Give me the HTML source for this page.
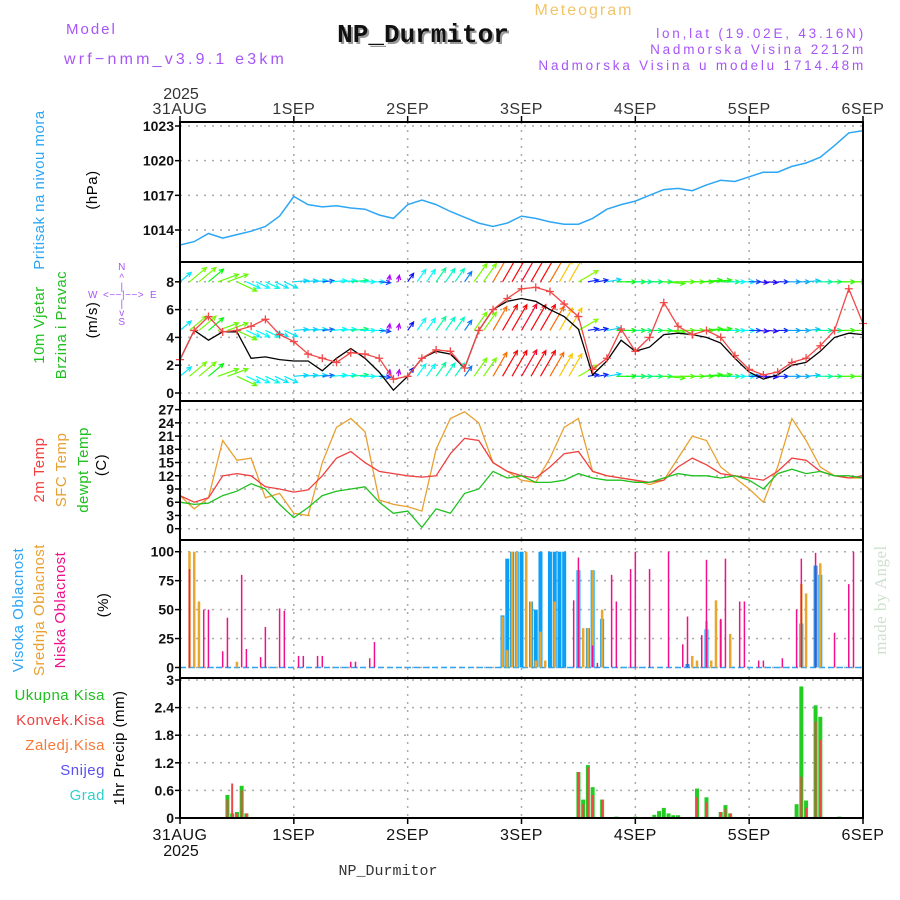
<!DOCTYPE html>
<html><head><meta charset="utf-8">
<style>
body{margin:0;background:#fff;}
svg{display:block;font-family:"Liberation Sans",sans-serif;}
</style></head>
<body>
<svg id="chart" width="900" height="900" viewBox="0 0 900 900" xmlns="http://www.w3.org/2000/svg">
<defs><clipPath id="windClip"><rect x="180" y="263" width="683" height="137"/></clipPath></defs>
<rect x="0" y="0" width="900" height="900" fill="#fff"/>
<g>
<text x="66" y="34" fill="#a855f7" font-size="15" letter-spacing="2">Model</text>
<text x="64" y="64" fill="#a855f7" font-size="16" letter-spacing="3.2">wrf−nmm_v3.9.1 e3km</text>
<text x="584" y="15" fill="#f2c46a" font-size="16" letter-spacing="2" text-anchor="middle">Meteogram</text>
<text x="425" y="44" fill="#999" font-size="26" font-weight="bold" font-family="Liberation Mono, monospace" text-anchor="middle">NP_Durmitor</text>
<text x="423" y="42" fill="#111" font-size="26" font-weight="bold" font-family="Liberation Mono, monospace" text-anchor="middle">NP_Durmitor</text>
<text x="866" y="38" fill="#a855f7" font-size="13.5" letter-spacing="2.8" text-anchor="end">lon,lat (19.02E, 43.16N)</text>
<text x="866" y="54" fill="#a855f7" font-size="13.5" letter-spacing="2.8" text-anchor="end">Nadmorska Visina 2212m</text>
<text x="866" y="70" fill="#a855f7" font-size="13.5" letter-spacing="2.8" text-anchor="end">Nadmorska Visina u modelu 1714.48m</text>
</g>
<g font-size="15" letter-spacing="0.5">
<text transform="translate(44,190) rotate(-90)" text-anchor="middle" fill="#2ea6f5">Pritisak na nivou mora</text>
<text transform="translate(97,190) rotate(-90)" text-anchor="middle" fill="#000">(hPa)</text>
<text transform="translate(44,325) rotate(-90)" text-anchor="middle" fill="#1fc01f">10m Vjetar</text>
<text transform="translate(66,325) rotate(-90)" text-anchor="middle" fill="#1fc01f">Brzina i Pravac</text>
<text transform="translate(97,320) rotate(-90)" text-anchor="middle" fill="#000">(m/s)</text>
<g fill="#a855f7" font-size="10">
<text x="122" y="270" text-anchor="middle">N</text>
<text x="122" y="281" text-anchor="middle">^</text>
<text x="122" y="290" text-anchor="middle">|</text>
<text x="88" y="298">W</text>
<text x="103" y="298">&lt;−−|−−&gt;</text>
<text x="150" y="298">E</text>
<text x="122" y="307" text-anchor="middle">|</text>
<text x="122" y="316" text-anchor="middle">v</text>
<text x="122" y="325" text-anchor="middle">S</text>
</g>
<text transform="translate(44,470) rotate(-90)" text-anchor="middle" fill="#f04040">2m Temp</text>
<text transform="translate(66,470) rotate(-90)" text-anchor="middle" fill="#e8a030">SFC Temp</text>
<text transform="translate(88,470) rotate(-90)" text-anchor="middle" fill="#1fc01f">dewpt Temp</text>
<text transform="translate(106,465) rotate(-90)" text-anchor="middle" fill="#000">(C)</text>
<text transform="translate(23,610) rotate(-90)" text-anchor="middle" fill="#2ea6f5">Visoka Oblacnost</text>
<text transform="translate(44,610) rotate(-90)" text-anchor="middle" fill="#e8a030">Srednja Oblacnost</text>
<text transform="translate(65,610) rotate(-90)" text-anchor="middle" fill="#f0108a">Niska Oblacnost</text>
<text transform="translate(108,605) rotate(-90)" text-anchor="middle" fill="#000">(%)</text>
<text x="105" y="700" text-anchor="end" fill="#1fc01f">Ukupna  Kisa</text>
<text x="105" y="725" text-anchor="end" fill="#f04040">Konvek.Kisa</text>
<text x="105" y="750" text-anchor="end" fill="#f57a3a">Zaledj.Kisa</text>
<text x="105" y="775" text-anchor="end" fill="#5a50f0">Snijeg</text>
<text x="105" y="800" text-anchor="end" fill="#30d0d0">Grad</text>
<text transform="translate(124,748) rotate(-90)" text-anchor="middle" fill="#000">1hr Precip (mm)</text>
<text transform="translate(886,600) rotate(-90)" text-anchor="middle" fill="#cfe0cf" font-size="17" font-family="Liberation Serif, serif">made by Angel</text>
<text x="388" y="875" text-anchor="middle" fill="#333" font-size="15" font-family="Liberation Mono, monospace" letter-spacing="0">NP_Durmitor</text>
</g>
<g id="plots"></g>
</svg>
<script>
// ---- data (3-hourly, index i = hour 3*i from 31AUG 00) ----
const dayLabels = ["31AUG","1SEP","2SEP","3SEP","4SEP","5SEP","6SEP"];
const pressTicks = [1014,1017,1020,1023];
const windTicks = [0,2,4,6,8];
const tempTicks = [0,3,6,9,12,15,18,21,24,27];
const cloudTicks = [0,25,50,75,100];
const precipTicks = [0,0.6,1.2,1.8,2.4,3];
const pressure = [1012.7,1013.0,1013.7,1013.3,1013.6,1013.9,1014.3,1015.2,1016.9,1016.2,1016.0,1016.1,1015.9,1015.8,1015.3,1015.0,1016.2,1016.6,1016.2,1015.6,1015.1,1014.6,1014.3,1014.6,1015.2,1015.0,1014.7,1014.5,1014.5,1015.0,1015.8,1016.2,1016.5,1017.0,1017.5,1017.6,1017.4,1017.9,1018.3,1018.2,1018.6,1019.0,1019.0,1019.5,1019.8,1020.3,1021.3,1022.4,1022.6];
const gust = [2.4,4.5,5.5,4.4,4.5,4.8,5.3,4.2,3.7,2.8,2.5,2.2,2.9,2.8,2.5,1.0,1.2,2.5,3.1,3.0,1.8,4.5,6.0,6.8,7.5,7.6,7.3,6.4,5.5,1.7,2.5,4.6,3.0,4.0,6.5,4.8,4.2,4.5,4.0,2.7,1.7,1.3,1.5,2.2,2.5,3.4,4.5,7.5,5.0];
const windSpeed = [2.4,4.5,3.8,4.4,4.4,2.5,2.6,2.4,2.3,2.3,1.6,2.5,3.2,2.5,1.5,0.2,1.2,2.5,3.0,2.8,1.8,4.5,6.0,6.6,6.8,6.6,6.0,5.5,4.6,1.3,2.3,3.8,3.0,3.3,4.2,4.3,4.2,4.0,3.6,2.5,1.5,1.0,1.3,2.0,2.2,3.0,4.0,4.3,4.2];
const windDir = [40,40,40,20,-25,-25,-25,-25,5,5,5,5,5,0,-5,80,55,55,55,55,55,55,60,60,60,60,60,60,30,10,10,0,0,0,-5,0,0,5,0,0,0,-5,0,0,5,0,0,0,0];
const temp2m = [7.5,6,7,12,12.5,12,9.5,9,8.3,8.8,12,16,17.5,15,13,12.5,12,11.7,12,17,20.5,20,15,13,12,11.5,14,17,17.5,13,12,11.5,11,10.5,11,14,16,14.5,12.5,12,11.5,11,13,16,15.5,13,12,11.5,12];
const tempSfc = [7.5,4.5,7,20,15.5,16,7,8,3.5,3,15,23,25,22,6.5,5.5,5,4,18,25,26.5,24,15,13,11,10.5,16,23,25,13,12,11.5,11,10,11,16,21,20,14,11.5,9,6,14,25,20,14,12,11.5,11.5];
const dewpt = [6,5.5,5.8,7.5,8.5,10.2,9,5.5,2.5,4.8,7.5,8.5,9,9.5,6,3.5,4,0.3,4.5,3.5,8,9,13,11.5,12,10.5,10.5,11,12.5,11.5,11,11,10.5,10.5,11.5,12.5,12,12,11.5,12,11,9,12.5,13.5,12.5,13,12,12,11.5];
// cloud (hourly, sparse)
const lowHours = [2,5,6,9,10,13,14,17,18,21,22,25,26,29,30,36,37,40,41,83,84,87,88,91,92,95,96,99,103,106,107,110,111,114,115,118,119,122,123,127,130,131,134,138,141,142];
const lowVals = [85,50,50,14,43,80,16,9,35,51,49,10,10,10,10,5,5,8,22,58,95,19,4,80,57,85,100,85,100,20,44,28,93,42,94,57,57,6,6,8,50,94,99,30,72,100];
const midHours = [2,3,4,12,68,69,70,71,73,74,75,76,77,79,84,85,86,87,89,108,109,111,112,113,114,116,131,132,135];
const midVals = [100,100,57,5,44,15,100,100,100,57,6,31,6,57,84,34,34,84,50,10,6,40,6,58,41,29,72,64,90];
const highHours = [68,69,70,71,72,74,75,76,78,79,80,81,84,86,87,89,107,111,131,134,135];
const highVals = [45,94,100,100,100,57,50,100,100,100,100,100,84,34,84,42,3,33,38,88,80];
// precip (hourly, sparse)
const rainHours = [10,11,12,13,14,84,85,86,87,89,92,96,100,101,102,103,104,105,109,111,114,115,116,130,131,132,134,135,139];
const rainTotal = [0.5,0.1,0.13,0.7,0.1,1.0,0.4,1.15,0.67,0.4,0.03,0.03,0.07,0.15,0.22,0.1,0.06,0.06,0.64,0.45,0.13,0.28,0.1,0.3,2.86,0.38,2.45,2.2,0.03];
const rainConv = [0.4,0.75,0.1,0.6,0.1,1.0,0.3,1.1,0.5,0.4,0,0,0,0,0,0,0,0,0.45,0.34,0.13,0.2,0.1,0,0.9,0.22,2.1,1.7,0];

// ---- axes ----
const XL=180, XR=863;
const X = h => XL + h*(XR-XL)/144;
const yP = v => 126 + (1023-v)*104/9;
const yW = v => 393 - v*13.9;
const yT = v => 528.7 - v*4.41;
const yC = v => 667.5 - v*1.158;
const yR = v => 818 - v*46;
const panels = [
 {name:'pressure',top:122,bot:262,ticks:pressTicks,y:yP,fmt:v=>v},
 {name:'wind',top:262,bot:401,ticks:windTicks,y:yW,fmt:v=>v},
 {name:'temperature',top:401,bot:540,ticks:tempTicks,y:yT,fmt:v=>v},
 {name:'cloud',top:540,bot:678,ticks:cloudTicks,y:yC,fmt:v=>v},
 {name:'precip',top:678,bot:818,ticks:precipTicks,y:yR,fmt:v=>v}
];
const NS='http://www.w3.org/2000/svg';
const root=document.getElementById('plots');
function mk(tag,attrs,parent){const e=document.createElementNS(NS,tag);for(const k in attrs)e.setAttribute(k,attrs[k]);(parent||root).appendChild(e);return e;}

panels.forEach(p=>{
  const g=mk('g',{});
  
  
  p.ticks.forEach(t=>{
    const yy=p.y(t);
    const gl=mk('line',{x1:XL,x2:XR,y1:yy,y2:yy,stroke:'#aaa','stroke-width':1.5,'stroke-dasharray':'2,6'},g);
    
    
    const tk=mk('line',{x1:XL-5,x2:XL,y1:yy,y2:yy,stroke:'#000','stroke-width':1.5},g);
    
    
    const tl=mk('text',{x:XL-6,y:yy+5,'text-anchor':'end','font-size':14,'font-weight':'bold',fill:'#111'},g);
    tl.textContent=p.fmt(t);
    
    
  });
  for(let d=1;d<6;d++){
    const vl=mk('line',{x1:X(d*24),x2:X(d*24),y1:p.top,y2:p.bot,stroke:'#aaa','stroke-width':1.5,'stroke-dasharray':'2,6'},g);
    
    
  }
  p.g=g;
});

function lineSeries(vals,yf,color,name,w){
  const pts=vals.map((v,i)=>X(i*3).toFixed(1)+','+yf(v).toFixed(1)).join(' ');
  const l=mk('polyline',{points:pts,fill:'none',stroke:color,'stroke-width':w||1.3});
  
  
  return l;
}
lineSeries(pressure,yP,'#2ea6f5','pressure-line',1.5);

// wind arrows (hourly glyphs, each using its 3-hourly sample)
function windColor(s){let h=290-s*44;if(h<0)h+=360;return 'hsl('+h+',95%,50%)';}
const rows=[8,4.5,1.2];
const ag=mk('g',{'clip-path':'url(#windClip)'});


rows.forEach(r=>{
  for(let h=0;h<144;h+=2){
    const i=Math.round(h/3);
    const s=windSpeed[i];
    const x0=X(h), y0=yW(r), L=6+s*3.6, a=windDir[i]*Math.PI/180;
    const x1=x0+L*Math.cos(a), y1=y0-L*Math.sin(a);
    const c=windColor(s);
    const hx=x1-5*Math.cos(a-0.45), hy=y1+5*Math.sin(a-0.45);
    const hx2=x1-5*Math.cos(a+0.45), hy2=y1+5*Math.sin(a+0.45);
    const ar=mk('path',{d:`M${x0},${y0}L${x1},${y1}M${hx},${hy}L${x1},${y1}L${hx2},${hy2}`,stroke:c,'stroke-width':1.2,fill:'none'},ag);
    
    
  }
});
lineSeries(windSpeed,yW,'#000','wind-speed-line',1.3);
lineSeries(gust,yW,'#f04848','wind-gust-line',1.3);
const cg=mk('g',{});


gust.forEach((v,i)=>{
  const x=X(i*3),y=yW(v);
  const m=mk('path',{d:`M${x-4},${y}H${x+4}M${x},${y-4}V${y+4}`,stroke:'#f04848','stroke-width':1.3},cg);
  
  
});

lineSeries(tempSfc,yT,'#e8a030','sfc-temp-line',1.3);
lineSeries(temp2m,yT,'#f04040','temp2m-line',1.3);
lineSeries(dewpt,yT,'#1fc01f','dewpoint-line',1.3);

// bars
function bars(hours,vals,yf,color,w,off,name){
  hours.forEach((h,i)=>{
    if(!vals[i])return;
    const x=X(h)+off, y=yf(vals[i]), y0=yf(0);
    const b=mk('rect',{x:x-w/2,y:y,width:w,height:Math.max(0,y0-y),fill:color});
    
    
  });
}
const cb=mk('line',{x1:XL,x2:XR,y1:yC(0),y2:yC(0),stroke:'#2ea6f5','stroke-width':1.5,'stroke-dasharray':'6,3'});


bars(highHours,highVals,yC,'#0aa0f5',4,0,'high-cloud-bar');
bars(midHours,midVals,yC,'#e8a830',2.5,0,'mid-cloud-bar');
bars(lowHours,lowVals,yC,'#f0108a',1.5,0,'low-cloud-bar');

bars(rainHours,rainTotal,yR,'#22cc22',4,0,'total-rain-bar');
bars(rainHours,rainConv,yR,'#f04848',2,0,'conv-rain-bar');

// panel borders & axes
panels.forEach(p=>{
  const r=mk('rect',{x:XL,y:p.top,width:XR-XL,height:p.bot-p.top,fill:'none',stroke:'#000','stroke-width':2});
  
  
});
dayLabels.forEach((d,i)=>{
  const x=X(i*24);
  const t1=mk('text',{x:x,y:114,'text-anchor':'middle','font-size':16,fill:'#333','letter-spacing':0.5});
  t1.textContent=d;
  
  
  const t2=mk('text',{x:x,y:840,'text-anchor':'middle','font-size':16,fill:'#111','letter-spacing':0.5});
  t2.textContent=d;
  
  
  const k1=mk('line',{x1:x,x2:x,y1:116,y2:122,stroke:'#000','stroke-width':1.5});
  
  
  const k2=mk('line',{x1:x,x2:x,y1:818,y2:824,stroke:'#000','stroke-width':1.5});
  
  
});
const y1=mk('text',{x:X(0)+1,y:99,'text-anchor':'middle','font-size':16,fill:'#333'});
y1.textContent='2025';


const y2=mk('text',{x:X(0)+1,y:856,'text-anchor':'middle','font-size':16,fill:'#111'});
y2.textContent='2025';


</script>
</body></html>
